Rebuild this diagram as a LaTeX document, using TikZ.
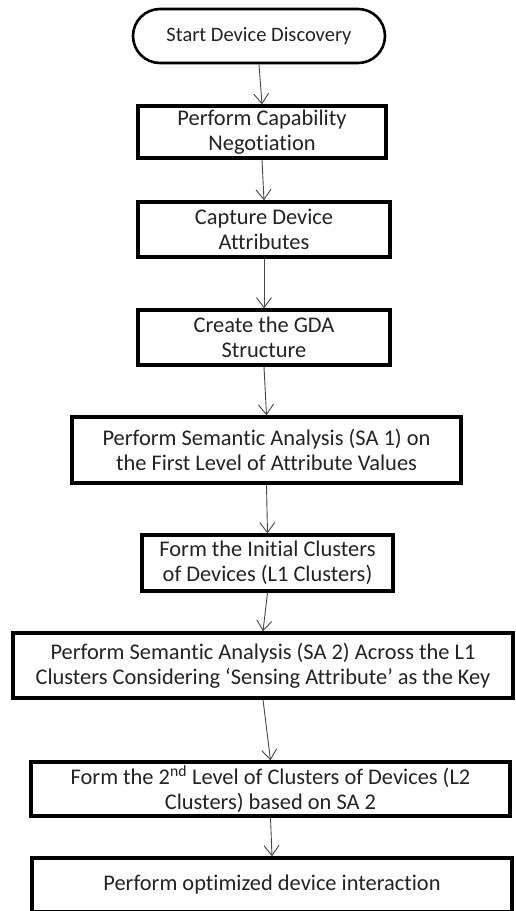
\documentclass[tikz,border=0pt]{standalone}
\usepackage{fontspec}
\setmainfont{Carlito}[Ligatures=NoCommon]
\usetikzlibrary{arrows.meta}
\definecolor{txt}{RGB}{35,35,35}
\definecolor{lnk}{RGB}{70,70,70}
\tikzset{
  x=1pt, y=-1pt,
  stepbox/.style={draw=black, line width=3.4pt, fill=white, inner sep=0pt,
    align=center, text=txt,
    font=\fontsize{22.4}{25}\selectfont},
  termbox/.style={stepbox, line width=2.6pt, rounded corners=27pt,
    font=\fontsize{20.5}{24}\selectfont},
  flow/.style={draw=lnk, line width=0.9pt,
    -{Straight Barb[length=10pt,width=15pt]}}
}
\begin{document}
\begin{tikzpicture}
\useasboundingbox (0,0) rectangle (515,911);
\node[termbox, minimum width=252pt, minimum height=54pt] (start) at (259,36) {Start Device Discovery};
\node[stepbox, minimum width=248pt, minimum height=52pt] (cap) at (262,132) {Perform Capability\\Negotiation};
\node[stepbox, minimum width=252pt, minimum height=55pt] (attr) at (264,229.5) {Capture Device\\Attributes};
\node[stepbox, minimum width=252pt, minimum height=55pt] (gda) at (264,337.5) {Create the GDA\\Structure};
\node[stepbox, minimum width=389pt, minimum height=66pt] (sa1) at (266.5,450) {Perform Semantic Analysis (SA 1) on\\the First Level of Attribute Values};
\node[stepbox, minimum width=251pt, minimum height=56pt] (l1) at (267.5,563) {Form the Initial Clusters\\of Devices (L1 Clusters)};
\node[stepbox, minimum width=500pt, minimum height=65pt] (sa2) at (263,665.5) {Perform Semantic Analysis (SA 2) Across the L1\\Clusters Considering ‘Sensing Attribute’ as the Key};
\node[stepbox, minimum width=479pt, minimum height=54pt] (l2) at (270.5,789) {Form the 2\textsuperscript{nd} Level of Clusters of Devices (L2\\Clusters) based on SA 2};
\node[stepbox, minimum width=480pt, minimum height=54pt] (opt) at (272,885) {Perform optimized device interaction};
\draw[flow] (start.south) -- (cap.north);
\draw[flow] (cap.south) -- (attr.north);
\draw[flow] (attr.south) -- (gda.north);
\draw[flow] (gda.south) -- (sa1.north);
\draw[flow] (sa1.south) -- (l1.north);
\draw[flow] (l1.south) -- (sa2.north);
\draw[flow] (sa2.south) -- (l2.north);
\draw[flow] (l2.south) -- (opt.north);
\end{tikzpicture}
\end{document}
